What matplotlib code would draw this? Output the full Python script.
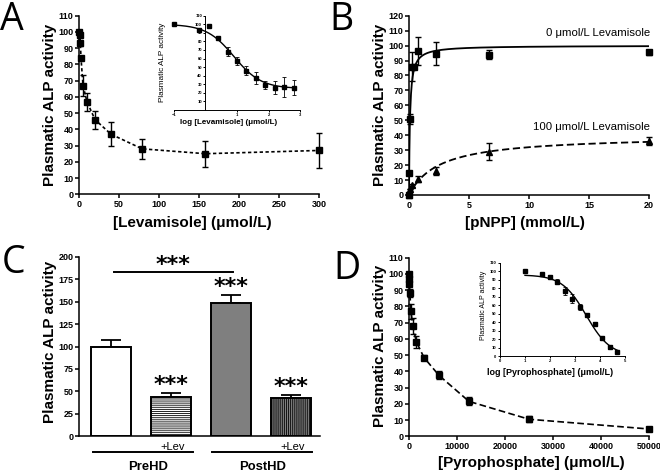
import numpy as np
import matplotlib
matplotlib.use('Agg')
import matplotlib.pyplot as plt

plt.rcParams['font.family'] = ['Liberation Sans', 'DejaVu Sans']
plt.rcParams['font.weight'] = 'bold'
plt.rcParams['hatch.linewidth'] = 0.6

W, H = 660, 472

# Panel A: levamisole inhibition
lev_conc = [0.1, 0.63, 1.26, 2.5, 5, 10, 20, 40, 79, 158, 300]
lev_act = [100, 93, 98, 84, 67, 57, 46, 37, 28, 25, 27]
lev_err = [0, 1.5, 0, 0.5, 6.5, 5.5, 5.5, 7.3, 6, 8, 11]

lev_log = [-1, -0.2, 0.1, 0.4, 0.7, 1.0, 1.3, 1.6, 1.9, 2.2, 2.5, 2.8]
lev_log_act = [100, 93, 98, 84, 68, 57, 46, 37, 29, 26, 26.5, 26]
lev_log_err = [0, 1.5, 0, 1, 5, 5, 5.5, 7, 5, 7.5, 11.5, 8.5]
lev_fit = (100, 25, 0.9, 1.0)  # top, bottom, logIC50, hill

# Panel B: pNPP kinetics
pnpp_conc = [0, 0.027, 0.082, 0.22, 0.42, 0.74, 2.22, 6.67, 20]
pnpp_act = [0, 15, 51, 86, 86, 96.5, 94.5, 94, 95.5]
pnpp_err = [0, 0, 3.5, 10, 0, 9.5, 7.7, 3, 1.5]
pnpp_lev_conc = [0, 0.082, 0.25, 0.74, 2.22, 6.67, 20]
pnpp_lev_act = [0, 4, 6.5, 11, 16, 29, 36]
pnpp_lev_err = [0, 0, 1, 2, 2.5, 5.5, 2.5]
mm_fit = (100, 0.08)      # Vmax, Km, no levamisole
mm_fit_lev = (40, 2.5)    # Vmax, Km, 100 umol/L levamisole

# Panel C: bars
bar_vals = [100, 44, 149, 42]
bar_errs = [7, 3.5, 9, 4]

# Panel D: pyrophosphate inhibition
pyro_conc = [10, 50, 100, 195, 390, 780, 1560, 3125, 6250, 12500, 25000, 50000]
pyro_act = [100, 97, 94, 88, 77, 68, 58, 48.5, 37.5, 21.5, 10.5, 4.5]
pyro_err = [0, 1, 1.5, 2.5, 4.5, 5, 3.5, 1.5, 2.5, 2.5, 2, 1.5]
pyro_fit = (96, 0, 3.45, 0.9)

fig = plt.figure(figsize=(W / 100, H / 100), dpi=100)


def add_axes_px(left, right, top, bottom):
    return fig.add_axes([left / W, 1 - bottom / H, (right - left) / W, (bottom - top) / H])


def style(ax, lw=1.1, size=6.5, length=3):
    for s in ['top', 'right']:
        ax.spines[s].set_visible(False)
    for s in ['left', 'bottom']:
        ax.spines[s].set_linewidth(lw)
    ax.tick_params(width=lw, length=length, labelsize=size, pad=1)


def ftext(x, y, s, **kw):
    return fig.text(x / W, 1 - y / H, s, **kw)


def sigmoid(x, top, bottom, logic50, hill):
    return bottom + (top - bottom) / (1 + 10 ** (hill * (x - logic50)))


eb = dict(fmt='s', color='black', ms=4.5, capsize=2.5, elinewidth=1, capthick=1, clip_on=False)
ylab = 'Plasmatic ALP activity'

# ---- A main
axA = add_axes_px(79, 319, 15.7, 194.3)
axA.errorbar(lev_conc, lev_act, yerr=lev_err, ls=(0, (2, 1.5)), lw=1.2, **eb)
axA.set_xlim(0, 300)
axA.set_ylim(0, 110)
axA.set_xticks(range(0, 301, 50))
axA.set_yticks(range(0, 111, 10))
style(axA)
ftext(50, 105, ylab, rotation=90, ha='center', va='center', fontsize=11)
ftext(192, 227, '[Levamisole] (μmol/L)', ha='center', va='baseline', fontsize=11)

# ---- A inset
axAi = add_axes_px(174, 300, 15.7, 110)
xs = np.linspace(-1, 2.8, 200)
axAi.plot(xs, sigmoid(xs, *lev_fit), color='black', lw=1)
axAi.errorbar(lev_log, lev_log_act, yerr=lev_log_err, fmt='s', color='black', ms=2.4,
              capsize=1.5, elinewidth=0.6, capthick=0.6, clip_on=False)
axAi.set_xlim(-1, 3)
axAi.set_ylim(0, 110)
axAi.set_yticks(range(10, 111, 10))
axAi.set_xticks([-1, 1, 2, 3])
axAi.spines['left'].set_position(('data', 0))
style(axAi, lw=0.7, size=3, length=1.5)
ftext(162, 62, ylab, rotation=90, ha='center', va='center', fontsize=5.9, fontweight='normal')
ftext(229, 124.5, 'log [Levamisole] (μmol/L)', ha='center', va='baseline', fontsize=5.8)

# ---- B
axB = add_axes_px(409, 649, 15.7, 195)
xs = np.linspace(0, 20, 600)
axB.plot(xs, mm_fit[0] * xs / (mm_fit[1] + xs), color='black', lw=1.3)
axB.plot(xs, mm_fit_lev[0] * xs / (mm_fit_lev[1] + xs), color='black', lw=1.3, ls=(0, (4, 2)))
axB.errorbar(pnpp_conc, pnpp_act, yerr=pnpp_err, ls='none', **eb)
eb_t = dict(eb, fmt='^')
axB.errorbar(pnpp_lev_conc, pnpp_lev_act, yerr=pnpp_lev_err, ls='none', **eb_t)
axB.set_xlim(0, 20)
axB.set_ylim(0, 120)
axB.set_xticks(range(0, 21, 5))
axB.set_yticks(range(0, 121, 10))
style(axB)
ftext(380, 105, ylab, rotation=90, ha='center', va='center', fontsize=11)
ftext(525, 227, '[pNPP] (mmol/L)', ha='center', va='baseline', fontsize=11)
ftext(650, 33, '0 μmol/L Levamisole', ha='right', va='center', fontsize=8.2, fontweight='normal')
ftext(650, 127, '100 μmol/L Levamisole', ha='right', va='center', fontsize=8.2, fontweight='normal')

# ---- C
axC = add_axes_px(79, 320, 257, 436)
pos = np.arange(4)
faces = ['white', 'white', '#7f7f7f', '#7f7f7f']
hatches = [None, '--------', None, '||||||||']
for p, v, e, fc, hz in zip(pos, bar_vals, bar_errs, faces, hatches):
    axC.bar(p, v, width=0.667, color=fc, edgecolor='black', linewidth=1.4, hatch=hz, zorder=2)
    axC.errorbar(p, v, yerr=[[0], [e]], color='black', capsize=7, elinewidth=1.3,
                 capthick=1.3, zorder=1)
axC.set_xlim(-0.533, 3.48)
axC.set_ylim(0, 200)
axC.set_yticks(range(0, 201, 25))
axC.set_xticks([])
style(axC)
star_kw = dict(ha='center', va='center', fontsize=16, family='DejaVu Sans', fontweight='bold')
axC.plot([0.05, 2.03], [183.6, 183.6], color='black', lw=1.4, clip_on=False)
axC.text(1.03, 191, '***', **star_kw)
axC.text(1, 57, '***', **star_kw)
axC.text(2, 166, '***', **star_kw)
axC.text(3, 55, '***', **star_kw)
axC.plot([-0.3, 1.37], [-18, -18], color='black', lw=1.4, clip_on=False)
axC.plot([1.68, 3.35], [-18, -18], color='black', lw=1.4, clip_on=False)
axC.text(1.03, -12.3, '+Lev', ha='center', va='center', fontsize=8, fontweight='normal')
axC.text(3.03, -12.3, '+Lev', ha='center', va='center', fontsize=8, fontweight='normal')
ftext(148, 470.5, 'PreHD', ha='center', va='baseline', fontsize=9.4)
ftext(263, 470.5, 'PostHD', ha='center', va='baseline', fontsize=9.4)
ftext(50, 342, ylab, rotation=90, ha='center', va='center', fontsize=11)

# ---- D main
axD = add_axes_px(409, 649, 257.7, 436.3)
axD.errorbar(pyro_conc, pyro_act, yerr=pyro_err, ls=(0, (4, 2)), lw=1.2, **eb)
axD.set_xlim(0, 50000)
axD.set_ylim(0, 110)
axD.set_xticks(range(0, 50001, 10000))
axD.set_yticks(range(0, 111, 10))
style(axD)
ftext(380, 346, ylab, rotation=90, ha='center', va='center', fontsize=11)
ftext(531, 467.5, '[Pyrophosphate] (μmol/L)', ha='center', va='baseline', fontsize=11)

# ---- D inset
axDi = add_axes_px(500, 625, 263, 356)
pyro_log = np.log10(pyro_conc)
xs = np.linspace(1, 4.7, 200)
axDi.plot(xs, sigmoid(xs, *pyro_fit), color='black', lw=1)
axDi.errorbar(pyro_log, pyro_act, yerr=pyro_err, fmt='s', color='black', ms=2.4,
              capsize=1.5, elinewidth=0.6, capthick=0.6, clip_on=False)
axDi.set_xlim(0, 5)
axDi.set_ylim(0, 110)
axDi.set_yticks(range(0, 111, 10))
axDi.set_xticks(range(0, 6))
style(axDi, lw=0.7, size=3, length=1.5)
ftext(484, 305, ylab, rotation=90, ha='center', va='center', fontsize=5, fontweight='normal')
ftext(550, 375, 'log [Pyrophosphate] (μmol/L)', ha='center', va='baseline', fontsize=6.5)

# panel letters
letter_kw = dict(fontsize=27, fontweight='normal', family='Open Sans', va='baseline', ha='left')
ftext(0, 30, 'A', **letter_kw)
ftext(329, 30, 'B', **letter_kw)
ftext(2, 273, 'C', **letter_kw)
ftext(333, 279, 'D', **letter_kw)

fig.savefig('out.png', dpi=100)
